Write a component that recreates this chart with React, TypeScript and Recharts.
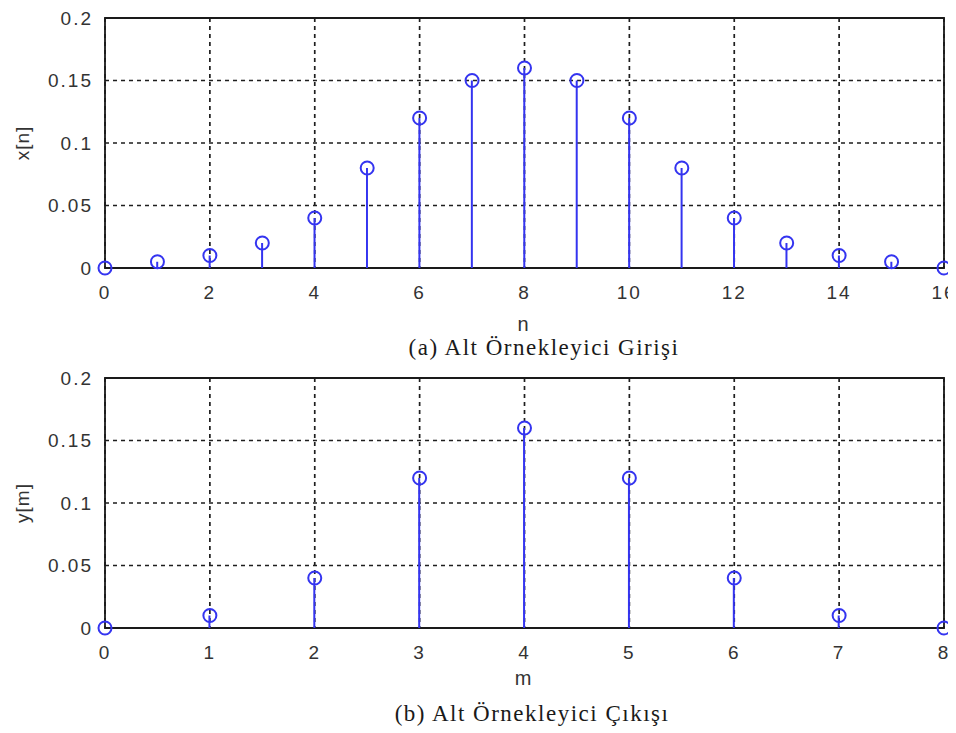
import {
  ComposedChart,
  Bar,
  Scatter,
  XAxis,
  YAxis,
  CartesianGrid,
  ReferenceArea,
} from 'recharts'

// upsampler input x[n]
const inputIndex = [0, 1, 2, 3, 4, 5, 6, 7, 8, 9, 10, 11, 12, 13, 14, 15, 16]
const inputValues = [
  0, 0.005, 0.01, 0.02, 0.04, 0.08, 0.12, 0.15, 0.16, 0.15, 0.12, 0.08, 0.04, 0.02, 0.01, 0.005, 0,
]
const inputTicks = [0, 2, 4, 6, 8, 10, 12, 14, 16]

// downsampler output y[m]
const outputIndex = [0, 1, 2, 3, 4, 5, 6, 7, 8]
const outputValues = [0, 0.01, 0.04, 0.12, 0.16, 0.12, 0.04, 0.01, 0]
const outputTicks = [0, 1, 2, 3, 4, 5, 6, 7, 8]

const valueTicks = [0, 0.05, 0.1, 0.15, 0.2]

const STEM = '#3434f0'
const tickStyle = {
  fill: '#333',
  fontSize: 19,
  fontFamily: '"Liberation Sans", Arial, sans-serif',
  letterSpacing: 2,
}

const fmt = (v: number) => String(v)

interface StemPlotProps {
  index: number[]
  values: number[]
  xTicks: number[]
  yLabel: string
  xLabel: string
  caption: string
  top: number
  xLabelTop: number
  captionTop: number
  captionX: number
}

function Marker(props: any) {
  const { cx, cy } = props
  if (cx == null || cy == null) return null
  return <circle cx={cx} cy={cy} r={6.5} fill="none" stroke={STEM} strokeWidth={2} />
}

function StemPlot({
  index,
  values,
  xTicks,
  yLabel,
  xLabel,
  caption,
  top,
  xLabelTop,
  captionTop,
  captionX,
}: StemPlotProps) {
  const data = index.map((k, i) => ({ k, v: values[i] }))
  const xMax = index[index.length - 1]

  return (
    <div style={{ position: 'absolute', left: 0, top, width: 948, height: 370 }}>
      <ComposedChart
        width={960}
        height={300}
        data={data}
        margin={{ top: 10, right: 24, left: 0, bottom: 0 }}
      >
        <CartesianGrid stroke="#1e1e1e" strokeWidth={1.7} strokeDasharray="4 4" />
        <XAxis
          dataKey="k"
          type="number"
          domain={[0, xMax]}
          ticks={xTicks}
          interval={0}
          height={40}
          axisLine={false}
          tickLine={false}
          tickMargin={12}
          tick={tickStyle}
        />
        <YAxis
          type="number"
          domain={[0, 0.2]}
          ticks={valueTicks}
          interval={0}
          width={97}
          axisLine={false}
          tickLine={false}
          tickMargin={6}
          tickFormatter={fmt}
          tick={tickStyle}
          label={{
            value: yLabel,
            angle: -90,
            position: 'insideLeft',
            offset: 14,
            style: { ...tickStyle, letterSpacing: 1, textAnchor: 'middle' },
          }}
        />
        <ReferenceArea
          x1={0}
          x2={xMax}
          y1={0}
          y2={0.2}
          fill="none"
          stroke="#1a1a1a"
          strokeWidth={1.8}
          ifOverflow="visible"
        />
        <Bar dataKey="v" barSize={2} fill={STEM} isAnimationActive={false} />
        <Scatter dataKey="v" shape={Marker} isAnimationActive={false} />
      </ComposedChart>
      <div
        style={{
          position: 'absolute',
          left: 515,
          top: xLabelTop,
          transform: 'translateX(-50%)',
          fontFamily: '"Liberation Sans", Arial, sans-serif',
          fontSize: 20,
          lineHeight: 1,
          color: '#333',
        }}
      >
        {xLabel}
      </div>
      <div
        style={{
          position: 'absolute',
          left: captionX,
          top: captionTop,
          transform: 'translateX(-50%)',
          whiteSpace: 'nowrap',
          fontFamily: '"Liberation Serif", "Times New Roman", serif',
          fontSize: 23,
          lineHeight: 1,
          letterSpacing: 1.5,
          color: '#1a1a1a',
        }}
      >
        {caption}
      </div>
    </div>
  )
}

export default function App() {
  return (
    <div style={{ position: 'relative', width: 948, height: 725, overflow: 'hidden' }}>
      <StemPlot
        index={inputIndex}
        values={inputValues}
        xTicks={inputTicks}
        yLabel="x[n]"
        xLabel="n"
        caption="(a) Alt Örnekleyici Girişi"
        top={0}
        xLabelTop={306}
        captionTop={328}
        captionX={536}
      />
      <StemPlot
        index={outputIndex}
        values={outputValues}
        xTicks={outputTicks}
        yLabel="y[m]"
        xLabel="m"
        caption="(b) Alt Örnekleyici Çıkışı"
        top={360}
        xLabelTop={300}
        captionTop={334}
        captionX={524}
      />
    </div>
  )
}
